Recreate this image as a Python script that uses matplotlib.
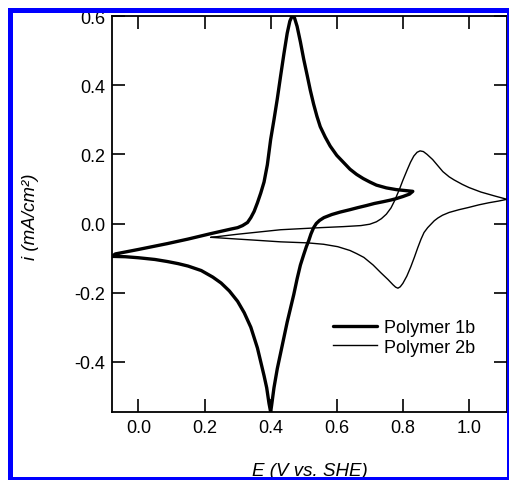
import matplotlib
matplotlib.use("Agg")
import matplotlib.pyplot as plt
from matplotlib.patches import Rectangle

plt.rcParams['font.family'] = ['Liberation Sans', 'DejaVu Sans']

# Polymer 1b: forward scan then reverse scan (E in V vs SHE, i in mA/cm2)
e_1b = [-0.08, -0.07, 0.0, 0.088, 0.15, 0.22, 0.28, 0.30, 0.315, 0.33, 0.34, 0.35,
        0.36, 0.37, 0.38, 0.39, 0.40, 0.41, 0.42, 0.43, 0.44, 0.45, 0.458, 0.465,
        0.472, 0.48, 0.49, 0.50, 0.511, 0.52, 0.53, 0.54, 0.55, 0.565, 0.58, 0.60,
        0.62, 0.64, 0.66, 0.68, 0.70, 0.72, 0.75, 0.78, 0.81, 0.83,
        0.82, 0.80, 0.78, 0.764, 0.74, 0.714, 0.69, 0.664, 0.64, 0.61, 0.585, 0.561,
        0.548, 0.538, 0.53, 0.522, 0.515, 0.508, 0.50, 0.49, 0.48, 0.47, 0.46, 0.45,
        0.44, 0.43, 0.42, 0.41, 0.403, 0.40, 0.395, 0.388, 0.38, 0.37, 0.36, 0.35,
        0.34, 0.32, 0.30, 0.275, 0.25, 0.225, 0.19, 0.15, 0.12, 0.088, 0.05, 0.0,
        -0.04, -0.08]
i_1b = [-0.095, -0.088, -0.075, -0.058, -0.045, -0.029, -0.016, -0.012, -0.006, 0.003,
        0.017, 0.035, 0.06, 0.088, 0.12, 0.17, 0.243, 0.30, 0.36, 0.426, 0.49, 0.55,
        0.585, 0.60, 0.595, 0.57, 0.525, 0.475, 0.426, 0.385, 0.345, 0.31, 0.28, 0.25,
        0.224, 0.197, 0.177, 0.157, 0.142, 0.13, 0.12, 0.111, 0.103, 0.098, 0.095, 0.093,
        0.085, 0.078, 0.072, 0.068, 0.063, 0.058, 0.052, 0.046, 0.04, 0.033, 0.026,
        0.017, 0.009, 0.0, -0.012, -0.03, -0.05, -0.067, -0.09, -0.12, -0.16, -0.205,
        -0.245, -0.285, -0.33, -0.375, -0.42, -0.475, -0.525, -0.545, -0.52, -0.475,
        -0.44, -0.40, -0.36, -0.33, -0.30, -0.258, -0.225, -0.195, -0.172, -0.155,
        -0.136, -0.123, -0.116, -0.11, -0.104, -0.099, -0.096, -0.095]

# Polymer 2b
e_2b = [0.22, 0.30, 0.43, 0.55, 0.62, 0.673, 0.70, 0.72, 0.735, 0.75, 0.764, 0.775,
        0.79, 0.80, 0.813, 0.823, 0.833, 0.843, 0.852, 0.862, 0.873, 0.89, 0.905,
        0.921, 0.94, 0.955, 0.98, 1.0, 1.036, 1.08, 1.115,
        1.09, 1.06, 1.03, 0.997, 0.97, 0.94, 0.92, 0.906, 0.895, 0.885, 0.875, 0.864,
        0.855, 0.845, 0.835, 0.824, 0.812, 0.80, 0.792, 0.785, 0.778, 0.77, 0.755,
        0.733, 0.71, 0.682, 0.66, 0.64, 0.603, 0.56, 0.512, 0.43, 0.35, 0.30, 0.22]
i_2b = [-0.04, -0.031, -0.018, -0.012, -0.009, -0.006, -0.002, 0.005, 0.014, 0.027,
        0.045, 0.066, 0.10, 0.125, 0.155, 0.177, 0.195, 0.206, 0.21, 0.208, 0.20,
        0.185, 0.168, 0.15, 0.135, 0.126, 0.113, 0.104, 0.091, 0.079, 0.07,
        0.065, 0.06, 0.054, 0.046, 0.04, 0.032, 0.024, 0.016, 0.008, -0.002, -0.012,
        -0.026, -0.045, -0.07, -0.097, -0.125, -0.152, -0.173, -0.183, -0.187, -0.184,
        -0.177, -0.162, -0.142, -0.12, -0.098, -0.087, -0.078, -0.067, -0.06, -0.056,
        -0.053, -0.048, -0.045, -0.04]

x_ticks = [0.0, 0.2, 0.4, 0.6, 0.8, 1.0]
y_ticks = [-0.4, -0.2, 0.0, 0.2, 0.4, 0.6]

W, H = 510, 481
fig = plt.figure(figsize=(W / 100, H / 100), dpi=100)
ax = fig.add_axes([112 / W, 1 - 413 / H, (507 - 112) / W, (413 - 17) / H])

ax.plot(e_1b, i_1b, color='black', lw=2.4, label='Polymer 1b',
        solid_joinstyle='round', solid_capstyle='round')
ax.plot(e_2b, i_2b, color='black', lw=1.0, label='Polymer 2b', solid_joinstyle='round')

ax.set_xlim(-0.08, 1.115)
ax.set_ylim(-0.545, 0.6)
ax.set_xticks(x_ticks)
ax.set_yticks(y_ticks)
ax.set_xticklabels([f'{v:.1f}' for v in x_ticks])
ax.set_yticklabels([f'{v:.1f}' for v in y_ticks])
ax.tick_params(direction='in', length=9.5, width=1.2, labelsize=13,
               top=True, right=True, pad=5)
for s in ax.spines.values():
    s.set_linewidth(1.3)

ax.legend(loc='upper left', bbox_to_anchor=(0.56, 0.235), frameon=False,
          fontsize=13, handlelength=2.4, handletextpad=0.4, labelspacing=0.15,
          borderpad=0, borderaxespad=0)

fig.text(31 / W, 1 - 217 / H, 'i (mA/cm²)', rotation=90, ha='center', va='center',
         fontsize=13.5, fontstyle='italic')
fig.text(310 / W, 1 - 463 / H, 'E (V vs. SHE)', ha='center', va='top',
         fontsize=13.5, fontstyle='italic')

# blue frame around the picture
blue = '#0000ff'
for x0, y0, w, h in [(8, 9, 502, 5), (8, 9, 5, 472), (507, 9, 3, 472), (8, 478, 502, 3)]:
    fig.add_artist(Rectangle((x0 / W, 1 - (y0 + h) / H), w / W, h / H,
                             transform=fig.transFigure, color=blue, lw=0, zorder=10))

fig.savefig('out.png', dpi=100)
